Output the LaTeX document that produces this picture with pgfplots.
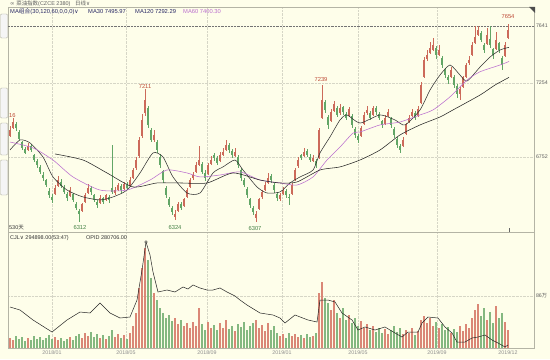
\documentclass[border=0pt]{standalone}
\usepackage{pgfplots}
\pgfplotsset{compat=1.18}
\usepackage{pgfplotstable}
\usepackage{fontspec}
\setmainfont{Liberation Sans}
\newfontfamily\cjk{Noto Sans CJK SC}
\newfontfamily\dv{DejaVu Sans}
\definecolor{bg}{RGB}{254,254,234}
\definecolor{framec}{RGB}{180,180,165}
\definecolor{gridc}{RGB}{214,214,198}
\definecolor{upc}{RGB}{204,106,90}
\definecolor{dnc}{RGB}{98,166,102}
\definecolor{vup}{RGB}{218,135,118}
\definecolor{vdn}{RGB}{132,184,128}
\definecolor{ma60c}{RGB}{186,110,206}
\definecolor{txtc}{RGB}{95,95,95}
\definecolor{navy}{RGB}{40,40,100}
\definecolor{labr}{RGB}{190,75,55}
\definecolor{labg}{RGB}{70,130,70}

\newcommand\isup{(\thisrow{c}>\thisrow{o}-0.5)}

\pgfplotstableread{
x o h l c v
10 6900 6960 6890 6935 16.5
13 6950 7016 6940 6989 13
16 6975 6990 6930 6948 20
19 6920 6935 6865 6880 15
22 6850 6860 6800 6813 18
25 6800 6820 6770 6785 12
28 6800 6845 6790 6826 16.5
31 6820 6840 6785 6799 13
34 6760 6775 6715 6731 20
37 6720 6740 6680 6697 15
40 6680 6700 6635 6650 18
43 6625 6650 6590 6609 13
46 6590 6605 6545 6561 16.5
49 6520 6540 6475 6493 21.5
52 6480 6500 6440 6460 15
55 6500 6560 6490 6541 18
58 6560 6620 6550 6595 13
61 6580 6600 6540 6555 16.5
64 6540 6560 6500 6514 11.5
67 6500 6515 6455 6473 15
70 6490 6545 6480 6527 18
73 6500 6510 6445 6460 13
76 6430 6445 6390 6405 20
79 6380 6395 6312 6364 23
82 6390 6440 6375 6426 16.5
85 6450 6510 6440 6493 25
88 6510 6570 6500 6541 20
91 6540 6555 6495 6514 26.5
94 6490 6500 6445 6460 18
97 6445 6460 6405 6426 23
100 6440 6490 6430 6473 16.5
103 6470 6480 6430 6446 21.5
106 6460 6500 6450 6487 15
109 6480 6495 6440 6460 20
112 6540 6833 6500 6514 30
115 6510 6545 6495 6527 18
118 6530 6575 6520 6555 23
121 6550 6565 6510 6527 16.5
124 6535 6585 6525 6568 21.5
127 6560 6580 6525 6541 15
130 6560 6615 6550 6595 25
133 6610 6680 6600 6663 36
136 6680 6750 6665 6731 58
139 6760 6890 6745 6867 99
142 6900 7040 6880 7003 132
145 7050 7211 7030 7138 165
148 7080 7100 6950 6969 146
151 6930 6950 6850 6867 116
154 6870 6935 6855 6901 91
157 6850 6870 6780 6799 79
160 6750 6770 6680 6697 66
163 6650 6665 6575 6595 58
166 6540 6555 6475 6493 50
169 6460 6480 6410 6426 55
172 6400 6420 6360 6378 45
175 6350 6390 6324 6364 50
178 6390 6445 6380 6426 40
181 6430 6445 6390 6405 46
184 6420 6475 6410 6460 36
187 6480 6540 6470 6527 41
190 6550 6610 6540 6595 33
193 6610 6650 6595 6629 43
196 6650 6715 6640 6697 36
199 6700 6826 6690 6731 66
202 6700 6715 6635 6650 40
205 6640 6660 6590 6609 30
208 6640 6710 6630 6697 43
211 6710 6760 6695 6731 33
214 6760 6780 6725 6745 38
217 6740 6755 6695 6711 30
220 6730 6785 6720 6765 41
223 6770 6810 6755 6785 33
226 6800 6867 6790 6833 46
229 6830 6845 6780 6799 31
232 6790 6805 6745 6765 36
235 6760 6810 6750 6785 28
238 6750 6765 6680 6697 40
241 6660 6675 6590 6609 35
244 6590 6610 6545 6561 43
247 6530 6545 6475 6493 30
250 6460 6470 6405 6426 36
253 6400 6420 6355 6378 41
256 6340 6385 6307 6358 46
259 6400 6475 6390 6460 33
262 6480 6530 6465 6514 38
265 6530 6580 6520 6561 28
268 6580 6640 6570 6609 41
271 6620 6635 6575 6595 30
274 6560 6575 6510 6527 36
277 6500 6515 6455 6473 25
280 6470 6510 6455 6493 20
283 6500 6545 6490 6527 23
286 6520 6535 6475 6493 16.5
289 6480 6500 6426 6473 25
292 6500 6575 6490 6561 20
295 6600 6680 6590 6663 23
298 6690 6750 6675 6731 18
301 6760 6775 6730 6745 21.5
304 6760 6810 6750 6785 16.5
307 6790 6805 6750 6765 23
310 6750 6770 6715 6731 18
313 6730 6765 6720 6745 20
316 6720 6735 6680 6697 25
319 6750 6950 6740 6935 91
322 7020 7239 7010 7138 109
325 7120 7140 7050 7071 83
328 7020 7040 6940 6969 74
331 7000 7080 6990 7057 63
334 7070 7130 7060 7105 79
337 7080 7095 7020 7037 58
340 7050 7110 7040 7084 50
343 7090 7100 7040 7057 66
346 7040 7060 7000 7016 46
349 7030 7090 7020 7071 55
352 7030 7045 6950 6969 41
355 6940 6955 6880 6901 50
358 6890 6910 6845 6867 36
361 6900 6965 6890 6948 45
364 6980 7055 6970 7037 33
367 7050 7095 7040 7071 40
370 7050 7065 7000 7016 30
373 7040 7100 7030 7084 36
376 7080 7095 7040 7057 26.5
379 7040 7055 7000 7016 33
382 6990 7005 6950 6969 25
385 6980 7035 6970 7016 31
388 7030 7075 7020 7057 23
391 7010 7025 6950 6969 30
394 6940 6955 6880 6901 36
397 6870 6885 6815 6833 26.5
400 6820 6840 6780 6799 33
403 6830 6890 6820 6867 23
406 6910 6985 6900 6969 30
409 6990 7040 6980 7016 25
412 7030 7080 7020 7057 33
415 7050 7065 7000 7016 21.5
418 7030 7095 7020 7071 28
421 7120 7260 7110 7240 46
424 7300 7430 7290 7410 53
427 7420 7480 7400 7444 41
430 7460 7530 7450 7492 50
433 7480 7560 7470 7512 36
436 7490 7505 7420 7444 43
439 7450 7510 7440 7478 33
442 7420 7435 7355 7376 40
445 7340 7355 7290 7308 30
448 7290 7310 7250 7274 35
451 7300 7360 7290 7342 25
454 7290 7305 7220 7240 31
457 7230 7250 7150 7180 26.5
460 7180 7230 7139 7210 36
463 7230 7300 7220 7290 28
466 7300 7390 7290 7376 40
469 7390 7440 7375 7410 33
472 7450 7530 7440 7512 50
475 7530 7640 7520 7560 63
478 7580 7641 7570 7614 73
481 7590 7610 7530 7546 53
484 7510 7525 7460 7478 66
487 7520 7630 7510 7580 46
490 7550 7641 7490 7512 60
493 7480 7495 7420 7444 41
496 7490 7600 7480 7546 69
499 7520 7530 7460 7478 50
502 7420 7440 7342 7376 58
505 7440 7530 7430 7512 43
508 7560 7654 7550 7614 29.5
}\kdata

\begin{document}
\begin{tikzpicture}[x=1bp,y=1bp]
\fill[bg] (0,0) rectangle (550,359);
\useasboundingbox (0,0) rectangle (550,359);

% left tabs
\foreach \a/\b in {14/38,88/118,123/155,160/195}{
  \draw[framec, fill=black!4, rounded corners=1bp, line width=0.4bp] (0.5,359-\b) rectangle (7.5,359-\a);
}

% ---------- price panel ----------
\begin{axis}[
  at={(8bp,127bp)}, anchor=south west,
  width=526bp, height=225bp, scale only axis,
  xmin=8, xmax=534, ymin=6242, ymax=7770,
  axis line style={draw=framec, line width=0.6bp},
  xtick={52,126,207,282,358,437}, xticklabels={},
  xmajorgrids, ymajorgrids,
  grid style={densely dotted, draw=gridc, line width=0.45bp},
  ytick={6752,7254}, yticklabels={6752,7254},
  extra y ticks={7641}, extra y tick labels={7641},
  extra y tick style={grid style={densely dotted, draw=black!55, line width=0.45bp}},
  major tick length=0pt,
  yticklabel pos=right,
  yticklabel style={font=\fontsize{5.3}{6}\selectfont, text=txtc, xshift=-1.5bp},
  axis background/.style={fill=bg},
  unbounded coords=discard,
]
% wicks
\addplot[draw=none, mark=none, error bars/.cd, y dir=both, y explicit, error mark=none,
  error bar style={draw=upc, line width=0.5bp, solid}]
  table[x=x, y expr={\isup ? (\thisrow{h}+\thisrow{l})/2 : nan}, y error expr={(\thisrow{h}-\thisrow{l})/2}] {\kdata};
\addplot[draw=none, mark=none, error bars/.cd, y dir=both, y explicit, error mark=none,
  error bar style={draw=dnc, line width=0.5bp, solid}]
  table[x=x, y expr={\isup ? nan : (\thisrow{h}+\thisrow{l})/2}, y error expr={(\thisrow{h}-\thisrow{l})/2}] {\kdata};
% bodies
\addplot[draw=none, mark=none, error bars/.cd, y dir=both, y explicit, error mark=none,
  error bar style={draw=upc, line width=1.8bp, solid}]
  table[x=x, y expr={\isup ? (\thisrow{o}+\thisrow{c})/2 : nan}, y error expr={abs(\thisrow{c}-\thisrow{o})/2+3}] {\kdata};
\addplot[draw=none, mark=none, error bars/.cd, y dir=both, y explicit, error mark=none,
  error bar style={draw=dnc, line width=1.8bp, solid}]
  table[x=x, y expr={\isup ? nan : (\thisrow{o}+\thisrow{c})/2}, y error expr={abs(\thisrow{c}-\thisrow{o})/2+3}] {\kdata};
% MA30
\addplot[black!80, line width=0.55bp, smooth, tension=0.4] coordinates {
(10,6799) (20,6867) (30,6847) (43,6751) (53,6616) (67,6527) (83,6480) (100,6460)
(113,6480) (127,6527) (140,6643) (153,6779) (163,6751) (173,6616) (187,6507) (200,6507)
(213,6643) (223,6684) (235,6731) (243,6663) (257,6548) (267,6507) (280,6514) (290,6575)
(300,6616) (313,6663) (320,6779) (330,6888) (340,7003) (347,7037) (360,6982) (380,7037)
(395,7003) (405,6969) (420,7071) (430,7206) (440,7308) (450,7376) (460,7308) (467,7267)
(480,7362) (490,7430) (500,7478) (509,7496)};
% MA60
\addplot[ma60c, line width=0.55bp, smooth, tension=0.4] coordinates {
(10,6853) (33,6813) (53,6731) (73,6616) (100,6527) (127,6527) (150,6595) (167,6663)
(187,6643) (200,6616) (220,6629) (240,6650) (260,6595) (280,6575) (297,6561) (313,6616)
(327,6731) (340,6819) (353,6914) (360,6921) (380,6969) (400,6989) (420,7037) (433,7071)
(450,7160) (467,7274) (480,7330) (500,7376) (509,7400)};
% MA120
\addplot[black!85, line width=0.55bp, smooth, tension=0.4] coordinates {
(55,6772) (83,6731) (107,6643) (133,6548) (157,6575) (180,6575) (207,6575) (233,6643)
(260,6595) (280,6575) (297,6582) (320,6663) (340,6684) (360,6731) (380,6799) (400,6901)
(420,6969) (440,7023) (453,7071) (480,7172) (495,7240) (509,7292)};
\end{axis}

% ---------- volume panel ----------
\begin{axis}[
  at={(8bp,11bp)}, anchor=south west,
  width=526bp, height=116bp, scale only axis,
  xmin=8, xmax=534, ymin=0, ymax=191.8,
  axis line style={draw=framec, line width=0.6bp},
  xtick={52,126,207,282,358,437},
  xticklabels={2018/01,2018/05,2018/09,2019/01,2019/05,2019/09},
  extra x ticks={508}, extra x tick labels={2019/12},
  extra x tick style={grid=none},
  xmajorgrids, ymajorgrids,
  grid style={densely dotted, draw=gridc, line width=0.45bp},
  ytick={86}, yticklabels={{86{\cjk 万}}},
  major tick length=0pt,
  yticklabel pos=right,
  yticklabel style={font=\fontsize{5.3}{6}\selectfont, text=txtc, xshift=-1.5bp},
  xticklabel style={font=\fontsize{5.3}{6}\selectfont, text=black!45, yshift=1bp},
  axis background/.style={fill=bg},
  unbounded coords=discard,
]
\addplot[ycomb, mark=none, vup, line width=2.6bp] table[x=x, y expr={\isup ? \thisrow{v} : nan}] {\kdata};
\addplot[ycomb, mark=none, vdn, line width=2.6bp] table[x=x, y expr={\isup ? nan : \thisrow{v}}] {\kdata};
\end{axis}

% ---------- open interest line ----------
\begin{axis}[
  at={(8bp,11bp)}, anchor=south west,
  width=526bp, height=116bp, scale only axis,
  xmin=8, xmax=534, ymin=271706, ymax=619706,
  hide axis,
]
\addplot[black!85, line width=0.5bp] coordinates {
(10,394706) (20,385706) (33,355706) (52,319706) (67,355706) (80,379706) (90,376706)
(100,406706) (110,376706) (120,361706) (130,364706) (137,415706) (142,505706) (146,589706)
(150,550706) (153,499706) (158,439706) (167,445706) (175,439706) (183,454706) (188,448706)
(193,460706) (200,451706) (207,445706) (213,445706) (220,451706) (227,439706) (235,427706)
(240,415706) (247,400706) (260,376706) (273,370706) (280,361706) (285,346706) (295,370706)
(308,355706) (317,349706) (320,415706) (328,415706) (335,409706) (342,376706) (352,355706)
(358,325706) (365,334706) (375,325706) (385,334706) (395,316706) (402,304706) (408,319706)
(418,319706) (422,346706) (428,364706) (438,361706) (445,334706) (452,316706) (457,289706)
(465,289706) (472,301706) (478,304706) (485,310706) (492,295706) (498,286706) (505,274706)
(508,280706)};
\addplot[only marks, mark=o, mark size=1.3bp, black!80, line width=0.4bp] coordinates {(146,589706)};
\end{axis}

% ---------- texts ----------
\node[anchor=west, inner sep=0, text=txtc, font=\fontsize{5.5}{6}\selectfont] at (10,355)
  {{\dv ∞}\ {\cjk 菜油指数}(CZCE 2380)\ \ \ {\cjk 日线}{\dv ∨}};
\node[anchor=west, inner sep=0, text=navy, font=\fontsize{5.8}{6}\selectfont] at (10,347)
  {MA{\cjk 组合}(30,120,60,0,0,0){\dv ∨}};
\node[anchor=west, inner sep=0, text=navy, font=\fontsize{5.8}{6}\selectfont] at (88,347) {MA30 7495.97};
\node[anchor=west, inner sep=0, text=navy, font=\fontsize{5.8}{6}\selectfont] at (135,347) {MA120 7292.29};
\node[anchor=west, inner sep=0, text=ma60c, font=\fontsize{5.8}{6}\selectfont] at (183,347) {MA60 7400.30};

\node[anchor=west, inner sep=0, text=black!80, font=\fontsize{5.5}{6}\selectfont] at (9,131) {530{\cjk 天}};
\node[anchor=west, inner sep=0, text=black!80, font=\fontsize{5.5}{6}\selectfont] at (10,121) {CJL{\dv ∨}\ 294898.00(53:47)};
\node[anchor=west, inner sep=0, text=black!80, font=\fontsize{5.5}{6}\selectfont] at (86,121) {OPID 280706.00};

\begin{scope}[every node/.style={inner sep=0, font=\fontsize{5.8}{6}\selectfont}]
\node[text=labr, anchor=west] at (9,243) {16};
\node[text=labr] at (145,273) {7211};
\node[text=labr] at (321,279) {7239};
\node[text=labr] at (508,342) {7654};
\node[text=labg] at (80,131) {6312};
\node[text=labg] at (175,131) {6324};
\node[text=labg] at (255,130) {6307};
\end{scope}

\fill[black!70] (529,352) -- (535,352) -- (535,346) -- cycle;
\draw[black!60, line width=0.4bp] (509.5,127) -- (509.5,131);
\end{tikzpicture}
\end{document}
